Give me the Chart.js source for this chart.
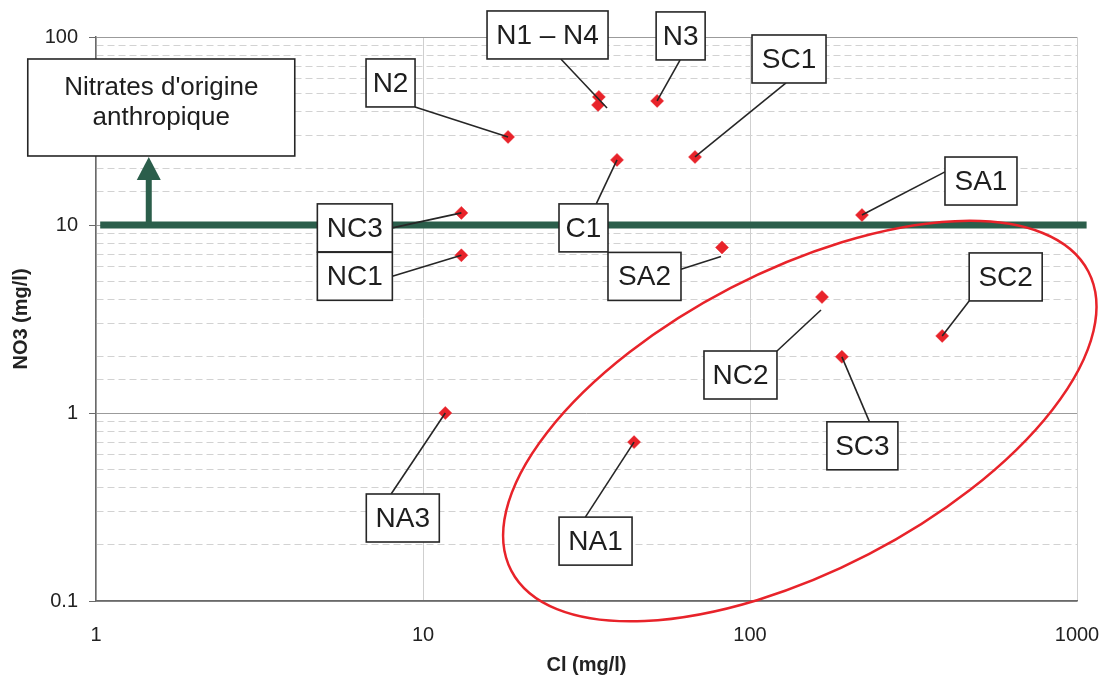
<!DOCTYPE html>
<html>
<head>
<meta charset="utf-8">
<script src="https://cdn.jsdelivr.net/npm/chart.js@4.4.1/dist/chart.umd.min.js"></script>
<style>
  html, body { margin: 0; padding: 0; background: #fff; }
  #chart { display: block; }
</style>
</head>
<body>
<canvas id="chart" width="1112" height="684"></canvas>
<script>
// Stations: chloride vs nitrate, both in mg/l
const stations = ["N2", "N1", "N4", "N3", "SC1", "C1", "NC3", "NC1", "SA1", "SA2", "NC2", "SC2", "SC3", "NA3", "NA1"];
const chloride = [18.2, 34.5, 34.3, 52.0, 67.9, 39.2, 13.1, 13.1, 220, 82.1, 166, 387, 191, 11.7, 44.2];
const nitrate = [29.4, 48.0, 43.5, 45.7, 23.0, 22.2, 11.6, 6.9, 11.3, 7.6, 4.14, 2.57, 1.99, 1.0, 0.70];

// 10 mg/l limit for anthropogenic nitrate
const thresholdNO3 = 10;
const thresholdCl = [1.03, 1070];

const xTicks = [1, 10, 100, 1000];
const yTicks = [0.1, 1, 10, 100];

const FONT = '"Liberation Sans", Arial, sans-serif';
const GREEN = "#2b5e4b";
const RED = "#e8232a";

// callout boxes: offset of the box from its station (px), where the leader
// leaves the box (fraction of width/height) and optional leader end offset
const callouts = [
  { text: "N2", at: "N2", dx: -142, dy: -78, w: 49, from: [1, 1] },
  { text: "N1 \u2013 N4", at: "N4", dx: -111, dy: -94, w: 121, from: [0.61, 1], end: [9, 3] },
  { text: "N3", at: "N3", dx: -1, dy: -89, w: 49, from: [0.49, 1] },
  { text: "SC1", at: "SC1", dx: 57, dy: -122, w: 74, from: [0.46, 1] },
  { text: "C1", at: "C1", dx: -58, dy: 44, w: 49, from: [0.76, 0] },
  { text: "NC3", at: "NC3", dx: -144, dy: -9, w: 75, from: [1, 0.5] },
  { text: "NC1", at: "NC1", dx: -144, dy: -3, w: 75, from: [1, 0.5] },
  { text: "SA1", at: "SA1", dx: 83, dy: -58, w: 72, from: [0, 0.31] },
  { text: "SA2", at: "SA2", dx: -114, dy: 5, w: 73, from: [1, 0.35], end: [-1, 9] },
  { text: "NC2", at: "NC2", dx: -118, dy: 54, w: 73, from: [1, 0], end: [-1, 13] },
  { text: "SC2", at: "SC2", dx: 27, dy: -83, w: 73, from: [0, 1] },
  { text: "SC3", at: "SC3", dx: -15, dy: 65, w: 71, from: [0.6, 0] },
  { text: "NA3", at: "NA3", dx: -79, dy: 81, w: 73, from: [0.34, 0] },
  { text: "NA1", at: "NA1", dx: -75, dy: 75, w: 73, from: [0.36, 0] },
];
const BOX_H = 48;

// arrow from the limit line up to the "anthropique" note, and the red ellipse
const arrowCl = 1.45;
const arrowTopNO3 = 23;
const ellipseCenter = { cl: 142, no3: 0.906 };

function isDecade(v) {
  const l = Math.log10(v);
  return Math.abs(l - Math.round(l)) < 1e-6;
}

function fmt(v) {
  return v < 1 ? v.toFixed(1) : v.toFixed(0);
}

function labelFor(list) {
  return (v) => (list.some((t) => Math.abs(Math.log10(t) - Math.log10(v)) < 1e-6) ? fmt(v) : "");
}

function drawBox(ctx, x, y, w, h) {
  ctx.fillStyle = "#fff";
  ctx.fillRect(x, y, w, h);
  ctx.strokeStyle = "#262626";
  ctx.lineWidth = 1.6;
  ctx.strokeRect(x, y, w, h);
}

// keep the plot area fixed: no extra room for overhanging tick labels
function fixScale(size) {
  return (s) => {
    if (s.isHorizontal()) s.height = size;
    else s.width = size;
    s.paddingLeft = s.paddingRight = s.paddingTop = s.paddingBottom = 0;
  };
}

const annotations = {
  id: "annotations",
  afterDatasetsDraw(chart) {
    const ctx = chart.ctx;
    const xs = chart.scales.x;
    const ys = chart.scales.y;
    ctx.save();

    // arrow pointing up from the limit line
    const ax = xs.getPixelForValue(arrowCl);
    const ay0 = ys.getPixelForValue(thresholdNO3);
    const ay1 = ys.getPixelForValue(arrowTopNO3);
    ctx.fillStyle = GREEN;
    ctx.fillRect(ax - 3, ay1 + 20, 6, ay0 - ay1 - 20);
    ctx.beginPath();
    ctx.moveTo(ax, ay1);
    ctx.lineTo(ax - 12, ay1 + 23);
    ctx.lineTo(ax + 12, ay1 + 23);
    ctx.closePath();
    ctx.fill();

    // note box above the arrow
    const bx = ax - 121;
    const by = ay1 - 98;
    drawBox(ctx, bx, by, 267, 97);
    ctx.fillStyle = "#1e1e1e";
    ctx.font = "26px " + FONT;
    ctx.textAlign = "center";
    ctx.textBaseline = "middle";
    ctx.fillText("Nitrates d'origine", bx + 133.5, by + 29);
    ctx.fillText("anthropique", bx + 133.5, by + 59);

    // callouts: leader lines then boxes
    ctx.font = "28px " + FONT;
    callouts.forEach((c) => {
      const i = stations.indexOf(c.at);
      const px = xs.getPixelForValue(chloride[i]);
      const py = ys.getPixelForValue(nitrate[i]);
      const x0 = px + c.dx;
      const y0 = py + c.dy;
      const end = c.end || [0, 0];
      ctx.strokeStyle = "#262626";
      ctx.lineWidth = 1.6;
      ctx.beginPath();
      ctx.moveTo(x0 + c.from[0] * c.w, y0 + c.from[1] * BOX_H);
      ctx.lineTo(px + end[0], py + end[1]);
      ctx.stroke();
      drawBox(ctx, x0, y0, c.w, BOX_H);
      ctx.fillStyle = "#1e1e1e";
      ctx.fillText(c.text, x0 + c.w / 2, y0 + BOX_H / 2 + 1);
    });

    // red ellipse around the chloride-rich group
    const ex = xs.getPixelForValue(ellipseCenter.cl);
    const ey = ys.getPixelForValue(ellipseCenter.no3);
    ctx.strokeStyle = RED;
    ctx.lineWidth = 2.5;
    ctx.beginPath();
    ctx.ellipse(ex, ey, 325, 150, (-27.4 * Math.PI) / 180, 0, Math.PI * 2);
    ctx.stroke();

    // axis titles
    ctx.fillStyle = "#222";
    ctx.font = "bold 20px " + FONT;
    ctx.textAlign = "center";
    ctx.textBaseline = "middle";
    ctx.fillText("Cl (mg/l)", (chart.chartArea.left + chart.chartArea.right) / 2, 665);
    ctx.translate(21, (chart.chartArea.top + chart.chartArea.bottom) / 2);
    ctx.rotate(-Math.PI / 2);
    ctx.fillText("NO3 (mg/l)", 0, 0);
    ctx.restore();
  },
};

const ctx = document.getElementById("chart").getContext("2d");
new Chart(ctx, {
  type: "scatter",
  data: {
    datasets: [
      {
        label: "Stations",
        data: chloride.map((c, i) => ({ x: c, y: nitrate[i] })),
        pointStyle: "rectRot",
        pointRadius: 6.5,
        pointBackgroundColor: RED,
        pointBorderColor: RED,
        pointBorderWidth: 0.5,
        order: 0,
      },
      {
        label: "Seuil",
        type: "line",
        data: thresholdCl.map((c) => ({ x: c, y: thresholdNO3 })),
        borderColor: GREEN,
        borderWidth: 7,
        pointRadius: 0,
        clip: false,
        order: 1,
      },
    ],
  },
  options: {
    responsive: false,
    animation: false,
    layout: { padding: { top: 37, right: 35, left: 0, bottom: 0 } },
    plugins: { legend: { display: false }, tooltip: { enabled: false } },
    scales: {
      x: {
        type: "logarithmic",
        min: 1,
        max: 1000,
        afterFit: fixScale(83),
        ticks: {
          autoSkip: false,
          maxRotation: 0,
          padding: 22,
          color: "#222",
          font: { family: FONT, size: 20 },
          callback: labelFor(xTicks),
        },
        grid: {
          drawTicks: false,
          color: (c) => (c.tick && isDecade(c.tick.value) ? "#cfcfcf" : "rgba(0,0,0,0)"),
          lineWidth: 1,
        },
        border: { color: "#6a6a6a", width: 1.5 },
      },
      y: {
        type: "logarithmic",
        min: 0.1,
        max: 100,
        afterFit: fixScale(96),
        ticks: {
          autoSkip: false,
          padding: 11,
          color: "#222",
          font: { family: FONT, size: 20 },
          callback: labelFor(yTicks),
        },
        grid: {
          tickLength: 7,
          color: (c) => (c.tick && isDecade(c.tick.value) ? "#9b9b9b" : "#d2d2d2"),
          tickColor: (c) => (c.tick && isDecade(c.tick.value) ? "#6a6a6a" : "rgba(0,0,0,0)"),
          lineWidth: 1,
        },
        border: {
          color: "#6a6a6a",
          width: 1.5,
          dash: (c) => (c.tick && !isDecade(c.tick.value) ? [7, 4] : []),
        },
      },
    },
  },
  plugins: [annotations],
});
</script>
</body>
</html>
